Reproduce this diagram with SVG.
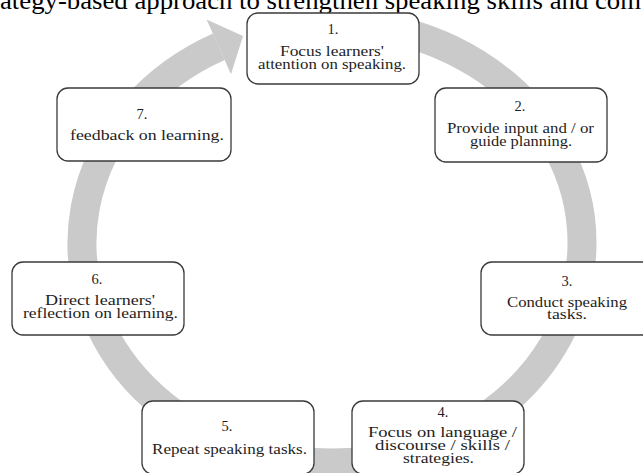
<svg xmlns="http://www.w3.org/2000/svg" width="643" height="473" viewBox="0 0 643 473">
<style>
.box{fill:#fff;stroke:#3a3a3a;stroke-width:1.3}
.t{font-family:"Liberation Serif","Times New Roman",serif;font-size:14.5px;fill:#1e1e1e;text-anchor:middle}
.title{font-family:"Liberation Serif","Times New Roman",serif;font-size:25px;fill:#000}
.ring{fill:none;stroke:#cacaca;stroke-width:29}
</style>
<rect width="643" height="473" fill="#fff"/>
<text class="title" x="0" y="9" textLength="641" lengthAdjust="spacingAndGlyphs">ategy-based approach to strengthen speaking skills and com</text>
<g id="connectors">
<path class="ring" d="M 375.4 26.3 A 250 220 0 1 1 218.8 46.8"/>
<polygon points="231,74.2 206.6,19.4 243,36" fill="#cacaca"/>
</g>
<g id="node1">
<rect class="box" x="247" y="13" width="172" height="71" rx="11"/>
<text class="t" x="333" y="34">1.</text>
<text class="t" x="332" y="56" textLength="104" lengthAdjust="spacingAndGlyphs">Focus learners'</text>
<text class="t" x="332" y="68.5" textLength="148" lengthAdjust="spacingAndGlyphs">attention on speaking.</text>
</g>
<g id="node2">
<rect class="box" x="435" y="88" width="172" height="74" rx="11"/>
<text class="t" x="520" y="111">2.</text>
<text class="t" x="520.5" y="133" textLength="147" lengthAdjust="spacingAndGlyphs">Provide input  and / or</text>
<text class="t" x="521" y="145.5" textLength="102" lengthAdjust="spacingAndGlyphs">guide planning.</text>
</g>
<g id="node3">
<rect class="box" x="481" y="262" width="174" height="73" rx="11"/>
<text class="t" x="567" y="286">3.</text>
<text class="t" x="567" y="307" textLength="120" lengthAdjust="spacingAndGlyphs">Conduct speaking</text>
<text class="t" x="567" y="318.5" textLength="40" lengthAdjust="spacingAndGlyphs">tasks.</text>
</g>
<g id="node4">
<rect class="box" x="352" y="401" width="172" height="73" rx="11"/>
<text class="t" x="443" y="417">4.</text>
<text class="t" x="442.5" y="437" textLength="149" lengthAdjust="spacingAndGlyphs">Focus on language /</text>
<text class="t" x="442.5" y="450" textLength="135" lengthAdjust="spacingAndGlyphs">discourse / skills /</text>
<text class="t" x="438.5" y="463" textLength="71" lengthAdjust="spacingAndGlyphs">strategies.</text>
</g>
<g id="node5">
<rect class="box" x="142" y="401" width="172" height="73" rx="11"/>
<text class="t" x="227" y="431">5.</text>
<text class="t" x="229.5" y="454" textLength="155" lengthAdjust="spacingAndGlyphs">Repeat speaking tasks.</text>
</g>
<g id="node6">
<rect class="box" x="12" y="262" width="172" height="73" rx="11"/>
<text class="t" x="97" y="284">6.</text>
<text class="t" x="100" y="305" textLength="110" lengthAdjust="spacingAndGlyphs">Direct learners'</text>
<text class="t" x="100.5" y="318" textLength="155" lengthAdjust="spacingAndGlyphs">reflection on learning.</text>
</g>
<g id="node7">
<rect class="box" x="57" y="88" width="174" height="73" rx="11"/>
<text class="t" x="142" y="119">7.</text>
<text class="t" x="147" y="140" textLength="154" lengthAdjust="spacingAndGlyphs">feedback on learning.</text>
</g>
</svg>
